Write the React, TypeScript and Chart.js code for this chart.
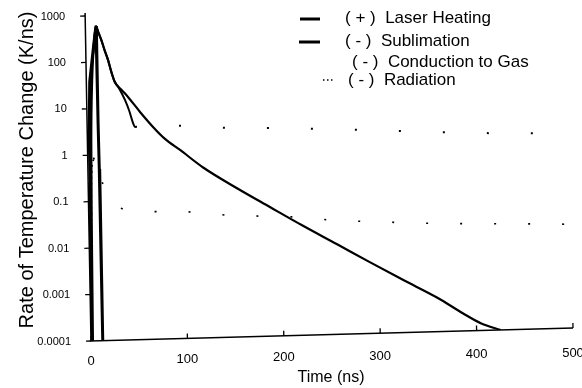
import React, { useEffect, useRef } from "react";
import { Chart, registerables } from "chart.js";

Chart.register(...registerables);

// ---------- data (de-skewed) ----------
const laserTime = [0.7, 1.2, 2, 3.5, 6, 8.5, 11, 11.4, 11.8, 12.2];
const laserRate = [0.0001, 0.05, 3, 38, 98, 250, 600, 5, 0.5, 0.0001];

const subTime = [2, 3, 4, 6, 8.5, 11, 13.5, 16.3, 19.5, 22.9, 26, 29.4, 36, 42.9, 55.1, 68.3, 80.5, 95.9, 119.5, 154.7, 188, 221, 257, 291, 325, 360, 386, 405, 425];
const subRate = [0.0001, 0.05, 2, 40, 240, 600, 430, 300, 180, 110, 62, 37, 25, 17.1, 8.0, 3.74, 2.03, 1.15, 0.468, 0.158, 0.0603, 0.0234, 0.0087, 0.00339, 0.00135, 0.000537, 0.00024, 0.000141, 0.0001];

const condTime = [1, 2, 3, 5, 8.5, 11, 13.5, 16.3, 19.5, 22.9, 26, 29.4, 34, 39.7, 44, 47.6, 49.6, 78.7, 148, 172, 180, 260, 399.5, 500];
const condRate = [0.0001, 0.01, 1, 30, 230, 580, 425, 297, 178, 109, 61, 37, 26, 14.8, 8.5, 4.7, 3.83, 3.9, 3.2, 3.1, 3.07, 2.6, 1.81, 1.55];

const radTime = [0.5, 1.5, 2.5, 3.5, 6, 10, 14, 20, 30, 50, 103, 142, 166, 210, 252, 300, 368, 386, 451, 484, 500];
const radRate = [0.0001, 0.001, 0.02, 0.3, 0.8, 1, 0.3, 0.12, 0.075, 0.06, 0.053, 0.043, 0.04, 0.036, 0.029, 0.025, 0.021, 0.0205, 0.0186, 0.0177, 0.017];

const seriesLabels = [
  "( + )  Laser Heating",
  "( - )  Sublimation",
  "( - )  Conduction to Gas",
  "( - )  Radiation",
];

const xTickValues = [0, 100, 200, 300, 400, 500];
const xTickLabels = ["0", "100", "200", "300", "400", "500"];
const yTickValues = [0.0001, 0.001, 0.01, 0.1, 1, 10, 100, 1000];
const yTickLabels = ["0.0001", "0.001", "0.01", "0.1", "1", "10", "100", "1000"];

const xTitle = "Time (ns)";
const yTitle = "Rate of Temperature Change (K/ns)";

const FONT = "'Liberation Sans', Arial, Helvetica, sans-serif";

// the scanned plot frame is slightly skewed (origin at the bottom-left corner)
const SKEW = { ox: 91, oy: 341, b: -0.027, c: 0.018 };

function skewPt(x: number, y: number): [number, number] {
  const dx = x - SKEW.ox;
  const dy = y - SKEW.oy;
  return [SKEW.ox + dx + SKEW.c * dy, SKEW.oy + SKEW.b * dx + dy];
}

function pairs(t: number[], v: number[]) {
  return t.map((x, i) => ({ x, y: v[i] }));
}

const frame = {
  id: "frame",
  beforeDatasetsDraw(chart: any) {
    const { ctx, chartArea, scales } = chart;
    ctx.save();
    ctx.translate(SKEW.ox, SKEW.oy);
    ctx.transform(1, SKEW.b, SKEW.c, 1, 0, 0);
    ctx.translate(-SKEW.ox, -SKEW.oy);
    // axis lines
    ctx.strokeStyle = "#000";
    ctx.lineWidth = 1.5;
    ctx.beginPath();
    ctx.moveTo(chartArea.left, chartArea.top - 3);
    ctx.lineTo(chartArea.left, chartArea.bottom);
    ctx.lineTo(chartArea.right, chartArea.bottom);
    ctx.stroke();
    // tick marks: outward on y, inward on x
    ctx.lineWidth = 1.3;
    for (const v of yTickValues) {
      const y = scales.y.getPixelForValue(v);
      ctx.beginPath();
      ctx.moveTo(chartArea.left - 5, y);
      ctx.lineTo(chartArea.left, y);
      ctx.stroke();
    }
    for (const v of xTickValues) {
      const x = scales.x.getPixelForValue(v);
      ctx.beginPath();
      ctx.moveTo(x, chartArea.bottom);
      ctx.lineTo(x, chartArea.bottom - 5);
      ctx.stroke();
    }
    // the transform stays on for the datasets
  },
  afterDatasetsDraw(chart: any) {
    chart.ctx.restore();
  },
};

const texts = {
  id: "texts",
  afterDraw(chart: any, _args: any, opts: any) {
    const { ctx, chartArea, scales } = chart;
    ctx.save();
    ctx.fillStyle = "#000";
    ctx.strokeStyle = "#000";

    // y tick labels
    ctx.font = opts.yTickFont;
    ctx.textAlign = "right";
    ctx.textBaseline = "middle";
    yTickValues.forEach((v, i) => {
      const [px, py] = skewPt(chartArea.left - opts.yTickGap, scales.y.getPixelForValue(v));
      ctx.fillText(yTickLabels[i], px, py);
    });

    // x tick labels
    ctx.font = opts.xTickFont;
    ctx.textAlign = "center";
    xTickValues.forEach((v, i) => {
      const x = scales.x.getPixelForValue(v);
      const y = opts.xTickY + opts.xTickSlope * (x - chartArea.left);
      ctx.fillText(xTickLabels[i], x, y);
    });

    // axis titles
    ctx.font = opts.xTitleFont;
    ctx.fillText(xTitle, opts.xTitlePos[0], opts.xTitlePos[1]);
    ctx.save();
    ctx.translate(opts.yTitlePos[0], opts.yTitlePos[1]);
    ctx.rotate(-Math.PI / 2);
    ctx.font = opts.yTitleFont;
    ctx.fillText(yTitle, 0, 0);
    ctx.restore();

    // legend
    ctx.font = opts.legendFont;
    ctx.textAlign = "left";
    chart.data.datasets.forEach((ds: any, i: number) => {
      const row = opts.legendRows[i];
      if (row.sampleLen > 0) {
        ctx.beginPath();
        ctx.setLineDash(row.dash || []);
        ctx.lineWidth = row.lineWidth;
        ctx.moveTo(row.sx, row.sy);
        ctx.lineTo(row.sx + row.sampleLen, row.sy);
        ctx.stroke();
      }
      ctx.setLineDash([]);
      ctx.fillText(ds.label, row.tx, row.ty);
    });
    ctx.restore();
  },
};

export default function App() {
  const ref = useRef<HTMLCanvasElement | null>(null);

  useEffect(() => {
    if (!ref.current) return;
    Chart.defaults.font.family = FONT;
    Chart.defaults.color = "#000";

    const chart = new Chart(ref.current, {
      type: "line",
      data: {
        datasets: [
          {
            label: seriesLabels[0],
            data: pairs(laserTime, laserRate),
            borderColor: "#000",
            borderWidth: 3,
            pointRadius: 0,
            tension: 0,
          },
          {
            label: seriesLabels[1],
            data: pairs(subTime, subRate),
            borderColor: "#000",
            borderWidth: 2.2,
            pointRadius: 0,
            cubicInterpolationMode: "monotone",
          },
          {
            label: seriesLabels[2],
            data: pairs(condTime, condRate),
            borderColor: "#000",
            borderWidth: 2,
            pointRadius: 0,
            cubicInterpolationMode: "monotone",
            segment: {
              borderDash: (c: any) => (c.p0.parsed.x >= 49 ? [2, 42] : undefined),
            },
          },
          {
            label: seriesLabels[3],
            data: pairs(radTime, radRate),
            borderColor: "#000",
            borderWidth: 1.6,
            pointRadius: 0,
            borderDash: [2, 32],
            cubicInterpolationMode: "monotone",
            segment: {
              borderDash: (c: any) => (c.p0.parsed.x < 4 ? [2, 4] : undefined),
            },
          },
        ],
      },
      options: {
        animation: false,
        responsive: false,
        devicePixelRatio: 1,
        layout: { padding: { top: 16, right: 9, left: 91, bottom: 47 } },
        plugins: {
          legend: { display: false },
          tooltip: { enabled: false },
          texts: {
            yTickFont: `11px ${FONT}`,
            yTickGap: 20,
            xTickFont: `13px ${FONT}`,
            xTickY: 361,
            xTickSlope: -0.016,
            xTitleFont: `16px ${FONT}`,
            xTitlePos: [331, 378],
            yTitleFont: `20px ${FONT}`,
            yTitlePos: [27, 170],
            legendFont: `17px ${FONT}`,
            legendRows: [
              { sx: 300, sy: 19, sampleLen: 20, lineWidth: 3, tx: 345, ty: 18 },
              { sx: 299, sy: 42, sampleLen: 21, lineWidth: 3, tx: 345, ty: 41 },
              { sx: 0, sy: 0, sampleLen: 0, lineWidth: 0, tx: 352, ty: 62 },
              { sx: 323, sy: 80, sampleLen: 12, lineWidth: 1.3, dash: [1.5, 2.5], tx: 348, ty: 80 },
            ],
          },
        } as any,
        scales: {
          x: { type: "linear", min: 0, max: 500, display: false },
          y: { type: "logarithmic", min: 0.0001, max: 1000, display: false },
        },
      } as any,
      plugins: [frame, texts],
    });
    return () => chart.destroy();
  }, []);

  return (
    <div
      style={{
        position: "fixed",
        left: 0,
        top: 0,
        width: 582,
        height: 388,
        background: "#fff",
      }}
    >
      <canvas ref={ref} width={582} height={388} style={{ width: 582, height: 388, display: "block" }} />
    </div>
  );
}
